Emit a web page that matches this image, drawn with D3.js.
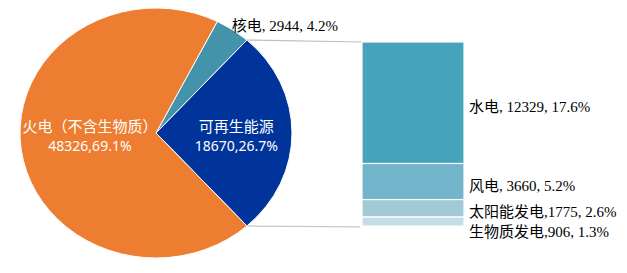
<!DOCTYPE html>
<html>
<head>
<meta charset="utf-8">
<script src="https://cdn.jsdelivr.net/npm/d3@7/dist/d3.min.js"></script>
<style>
  html, body { margin: 0; padding: 0; background: #fff; }
  svg { display: block; }
  .lbl { font-family: "Liberation Serif", "Noto Sans CJK SC", serif; font-size: 15px; fill: #000; }
  .inner { font-family: "Noto Sans", "Noto Sans CJK SC", sans-serif; font-size: 14px; fill: #fff; }
  .inner .name { font-size: 15px; }
</style>
</head>
<body>
<svg id="chart" width="627" height="273"></svg>
<script>
// Electricity generation mix: main pie, renewables broken out in a stacked bar
const pieNames   = ["核电", "可再生能源", "火电（不含生物质）"];
const pieValues  = [2944, 18670, 48326];
const piePct     = ["4.2%", "26.7%", "69.1%"];
const pieColors  = ["#4394AB", "#00349A", "#ED7D31"];

const subNames   = ["水电", "风电", "太阳能发电", "生物质发电"];
const subValues  = [12329, 3660, 1775, 906];
const subPct     = ["17.6%", "5.2%", "2.6%", "1.3%"];
const subColors  = ["#46A3BC", "#72B5CB", "#A1C9D8", "#C4DDE6"];

const svg = d3.select("#chart");

// pie geometry (slightly flattened ellipse)
const cx = 156, cy = 133, R = 136, ky = 125 / 136;
const total = d3.sum(pieValues);
const renewIdx = 1;
// rotate so the renewables slice is centred on the right-hand horizontal
const before = d3.sum(pieValues.slice(0, renewIdx)) + pieValues[renewIdx] / 2;
const start = Math.PI / 2 - before / total * 2 * Math.PI;

const pie = d3.pie().sort(null).value(d => d)
  .startAngle(start).endAngle(start + 2 * Math.PI);
const arcs = pie(pieValues);
const arc = d3.arc().innerRadius(0).outerRadius(R);

const gPie = svg.append("g").attr("transform", `translate(${cx},${cy}) scale(1,${ky})`);
gPie.selectAll("path").data(arcs).join("path")
  .attr("d", arc)
  .attr("fill", (d, i) => pieColors[i])
  .attr("stroke", "#fff")
  .attr("stroke-width", 1)
  .attr("vector-effect", "non-scaling-stroke");

// point on the ellipse outline at angle a (clockwise from top)
const ell = (a, r) => [cx + r * Math.sin(a), cy - r * ky * Math.cos(a)];

// stacked bar for the renewables breakdown
const ra = arcs[renewIdx];
const pTop = ell(ra.startAngle, R), pBot = ell(ra.endAngle, R);
const barX0 = 362, barX1 = 464;
const y = d3.scaleLinear().domain([0, d3.sum(subValues)]).range([42, 226]);
const cum = d3.cumsum(subValues);
const segs = subValues.map((v, i) => ({ v, i, y0: i ? cum[i - 1] : 0, y1: cum[i] }));

// connector lines
svg.append("line").attr("x1", pTop[0]).attr("y1", pTop[1]).attr("x2", barX0).attr("y2", y(0))
  .attr("stroke", "#BFBFBF").attr("stroke-width", 1.2);
svg.append("line").attr("x1", pBot[0]).attr("y1", pBot[1]).attr("x2", barX0 - 2).attr("y2", pBot[1] + 1)
  .attr("stroke", "#C8C8C8").attr("stroke-width", 1.2);

svg.append("g").selectAll("rect").data(segs).join("rect")
  .attr("x", barX0).attr("width", barX1 - barX0)
  .attr("y", d => y(d.y0)).attr("height", d => y(d.y1) - y(d.y0))
  .attr("fill", d => subColors[d.i])
  .attr("stroke", "#fff").attr("stroke-width", 1.2);

// bar labels, pushed apart where segments are thin
let lastY = -Infinity;
segs.forEach(d => {
  let ly = (y(d.y0) + y(d.y1)) / 2 + 4;
  if (ly < lastY + 20) ly = lastY + 20;
  lastY = ly;
  const sep = d.i >= 2 ? "," : ", ";
  svg.append("text").attr("class", "lbl")
    .attr("x", barX1 + 5).attr("y", ly).attr("dominant-baseline", "central")
    .text(`${subNames[d.i]}${sep}${subValues[d.i]}, ${subPct[d.i]}`);
});

// nuclear label outside the pie
const na = arcs[0];
const np = ell((na.startAngle + na.endAngle) / 2, R);
svg.append("text").attr("class", "lbl")
  .attr("x", np[0] - 1).attr("y", np[1] - 4).attr("dominant-baseline", "central")
  .text(`${pieNames[0]}, ${pieValues[0]}, ${piePct[0]}`);

// inside labels for thermal and renewables (label distance as a fraction of the radius)
const labelFrac = { 1: 0.59, 2: 0.49 };
[2, 1].forEach(i => {
  const a = (arcs[i].startAngle + arcs[i].endAngle) / 2;
  const lx = cx + R * labelFrac[i] * Math.sin(a);
  const ly = cy + 2;
  const t = svg.append("text").attr("class", "inner").attr("text-anchor", "middle");
  t.append("tspan").attr("class", "name").attr("x", lx).attr("y", ly - 9)
    .attr("dominant-baseline", "central").text(pieNames[i]);
  t.append("tspan").attr("x", lx).attr("y", ly + 10).attr("dominant-baseline", "central")
    .text(`${pieValues[i]},${piePct[i]}`);
});
</script>
</body>
</html>
